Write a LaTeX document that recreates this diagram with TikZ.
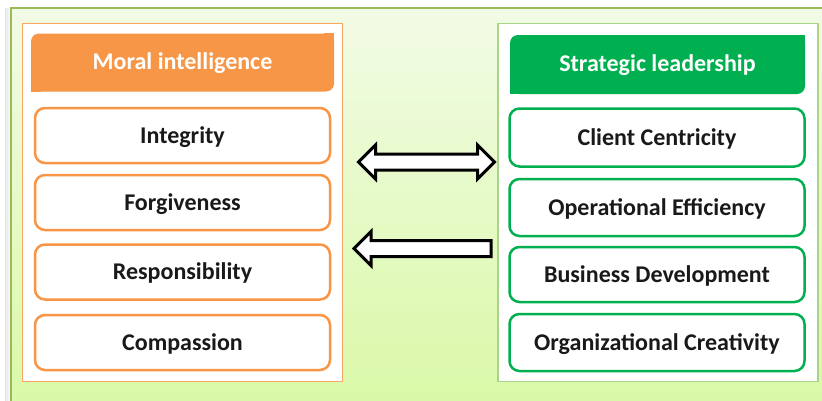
\documentclass[tikz,border=0pt]{standalone}
\usepackage{fontspec}
\setmainfont{Carlito}
\usetikzlibrary{shapes.arrows}

\definecolor{moralorange}{HTML}{F79646}
\definecolor{stratgreen}{HTML}{00B050}
\definecolor{panelgreen}{HTML}{A9D58A}
\definecolor{framegreen}{HTML}{9BBB59}
\definecolor{bgtop}{HTML}{F2FBE6}
\definecolor{bgbottom}{HTML}{D9F9A6}

\tikzset{
	panel/.style={draw, fill=white, minimum width=#1, minimum height=358pt, inner sep=0pt},
	itembox/.style={draw=#1, line width=2.5pt, fill=white, rounded corners=10pt,
		minimum width=295pt, minimum height=55pt, inner sep=0pt, text height=18pt, text depth=3pt,
		font=\fontsize{24}{28}\selectfont\bfseries, text=black!90},
	headbox/.style={fill=#1, rounded corners=8pt, minimum width=303pt, minimum height=58pt,
		inner sep=0pt, text height=17pt, text depth=4pt,
		font=\fontsize{24}{28}\selectfont\bfseries, text=white},
	blockarrow/.style={draw=black, line width=3pt, fill=white, inner xsep=0pt, inner ysep=6.5pt},
}

\begin{document}
\begin{tikzpicture}[x=1pt,y=-1pt]
	\useasboundingbox (0,0) rectangle (822,400);
	% background frame
	\shade[left color=black!10, right color=white] (5,8) rectangle (11,400);
	\shade[top color=bgtop, bottom color=bgbottom, draw=framegreen, line width=1.5pt] (11,8) rectangle (830,410);

	% moral intelligence
	\node[panel=320pt, draw=moralorange!85, line width=1pt] (mpanel) at (182,202) {};
	\node[headbox=moralorange] (mhead) at (182.5,62.5) {Moral intelligence};
	\fill[moralorange] (mhead.north east) rectangle ++(-10,10);
	\fill[moralorange] (mhead.south west) rectangle ++(10,-10);
	\node[itembox=moralorange] (integrity) at (182.5,135.5) {Integrity};
	\node[itembox=moralorange] (forgive) at (182.5,202.5) {Forgiveness};
	\node[itembox=moralorange] (respons) at (182.5,272) {Responsibility};
	\node[itembox=moralorange] (compass) at (182.5,342.5) {Compassion};

	% strategic leadership
	\node[panel=320pt, draw=panelgreen, line width=1.5pt] (spanel) at (658,202.5) {};
	\node[headbox=stratgreen, minimum width=295pt, minimum height=59pt] (shead) at (657.5,64.5) {Strategic leadership};
	\fill[stratgreen] (shead.north east) rectangle ++(-10,10);
	\fill[stratgreen] (shead.south west) rectangle ++(10,-10);
	\node[itembox=stratgreen, minimum height=58pt] (client) at (657,137.5) {Client Centricity};
	\node[itembox=stratgreen, minimum height=57pt] (operat) at (657,207.5) {Operational Efficiency};
	\node[itembox=stratgreen, minimum height=55pt] (business) at (657,274.5) {Business Development};
	\node[itembox=stratgreen, minimum height=57pt] (organiz) at (657,342.5) {Organizational Creativity};

	% arrows between the two
	\node[blockarrow, double arrow, minimum height=136pt,
		double arrow head extend=9pt] (bothways) at (426.5,162) {};
	\node[blockarrow, single arrow, shape border rotate=180, minimum height=137pt,
		single arrow head extend=9pt] (backward) at (426.5,248.5) {};
\end{tikzpicture}
\end{document}
